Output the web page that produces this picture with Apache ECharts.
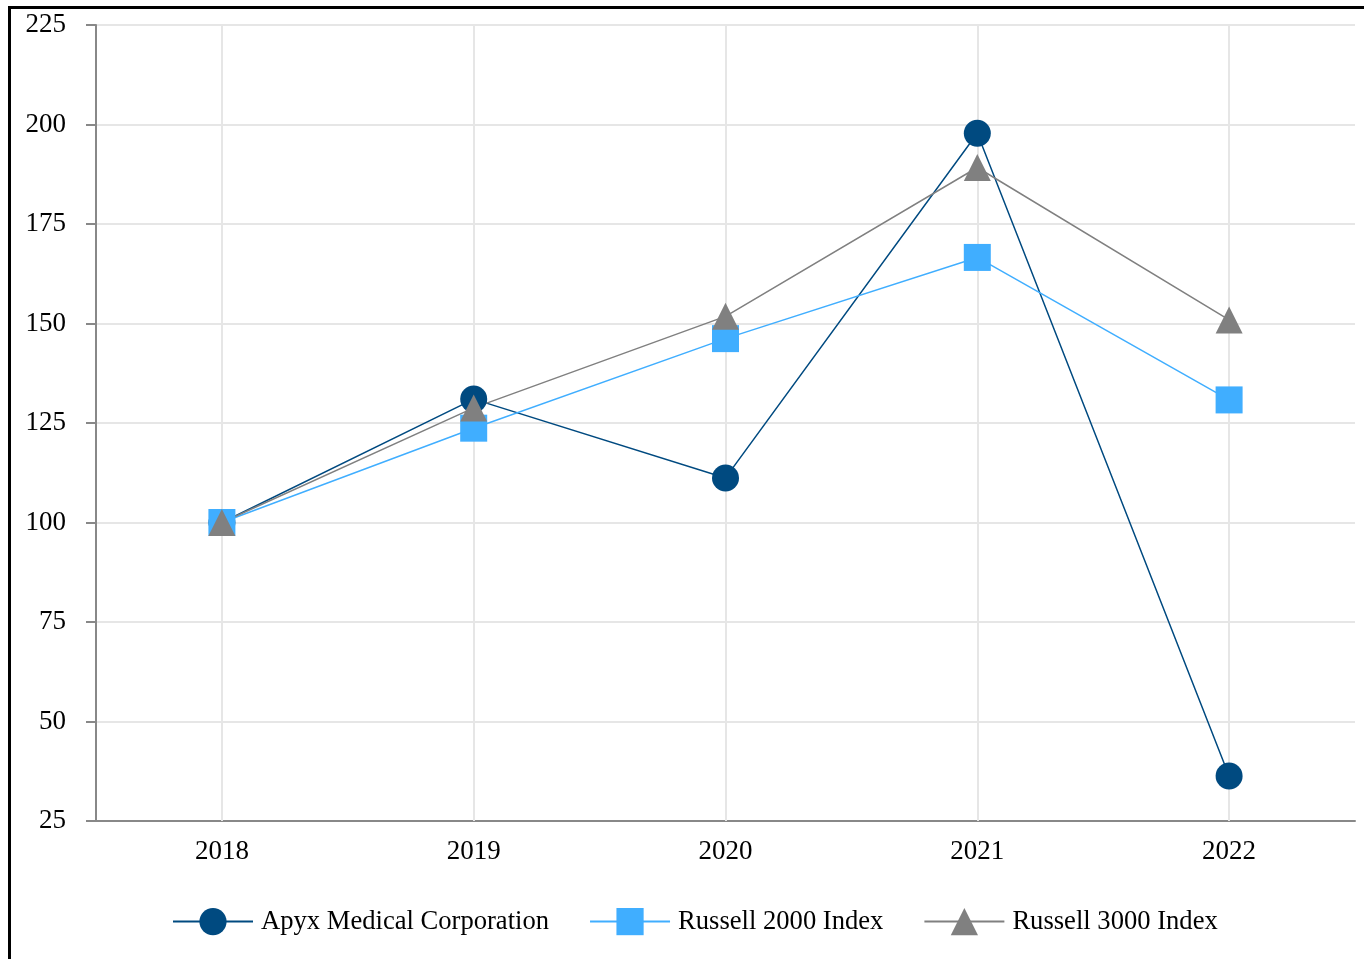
<!DOCTYPE html>
<html>
<head>
<meta charset="utf-8">
<script src="https://cdn.jsdelivr.net/npm/echarts@6/dist/echarts.min.js"></script>
<style>
html,body{margin:0;padding:0;background:#fff;overflow:hidden;}
#frame{position:absolute;left:8px;top:6px;width:3000px;height:3000px;border-top:3.5px solid #000;border-left:3.5px solid #000;}
#chart{position:absolute;left:0;top:0;width:1364px;height:959px;}
</style>
</head>
<body>
<div id="frame"></div>
<div id="chart"></div>
<script>
const years = ['2018', '2019', '2020', '2021', '2022'];
const apyx = [100, 131, 111.2, 197.8, 36.3];
const russell2000 = [100, 123.7, 146.2, 166.6, 130.8];
const russell3000 = [100, 128.8, 151.8, 189.2, 150.9];
const yTicks = [25, 50, 75, 100, 125, 150, 175, 200, 225];

const font = 'Liberation Serif';
const chart = echarts.init(document.getElementById('chart'));
function mk(name, data, color, symbol, extra) {
  return Object.assign({
    name, type: 'line', data, symbol, symbolSize: 27,
    lineStyle: {color, width: 1.5},
    itemStyle: {color},
    z: 3
  }, extra || {});
}
chart.setOption({
  animation: false,
  grid: {left: 96, right: 9, top: 25, bottom: 138},
  xAxis: {
    type: 'category', data: years, boundaryGap: true,
    axisLine: {lineStyle: {color: '#888', width: 2}},
    axisTick: {alignWithLabel: true, length: 10, lineStyle: {color: '#888', width: 2}},
    axisLabel: {fontFamily: font, fontSize: 27, color: '#000', margin: 17},
    splitLine: {show: false}
  },
  yAxis: {
    type: 'value', min: yTicks[0], max: yTicks[yTicks.length-1], interval: 25,
    axisLine: {show: true, lineStyle: {color: '#888', width: 2}},
    axisTick: {show: true, length: 10, lineStyle: {color: '#888', width: 2}},
    axisLabel: {fontFamily: font, fontSize: 27, color: '#000', margin: 30},
    splitLine: {lineStyle: {color: '#e6e6e6', width: 2}}
  },
  legend: {
    left: 167, top: 903,
    itemWidth: 80, itemHeight: 34, itemGap: 40,
    textStyle: {fontFamily: font, fontSize: 26.6, color: '#000', padding: [0, 0, 0, 3]},
    data: ['Apyx Medical Corporation', 'Russell 2000 Index', 'Russell 3000 Index']
  },
  series: [
    mk('Apyx Medical Corporation', apyx, '#004a80', 'circle', {
      markLine: {
        silent: true, symbol: 'none', label: {show: false},
        lineStyle: {color: '#e6e6e6', width: 2, type: 'solid'},
        data: years.map(y => ({xAxis: y})),
        z: 1
      }
    }),
    mk('Russell 2000 Index', russell2000, '#40aeff', 'rect'),
    mk('Russell 3000 Index', russell3000, '#808080', 'triangle')
  ]
});
</script>
</body>
</html>
